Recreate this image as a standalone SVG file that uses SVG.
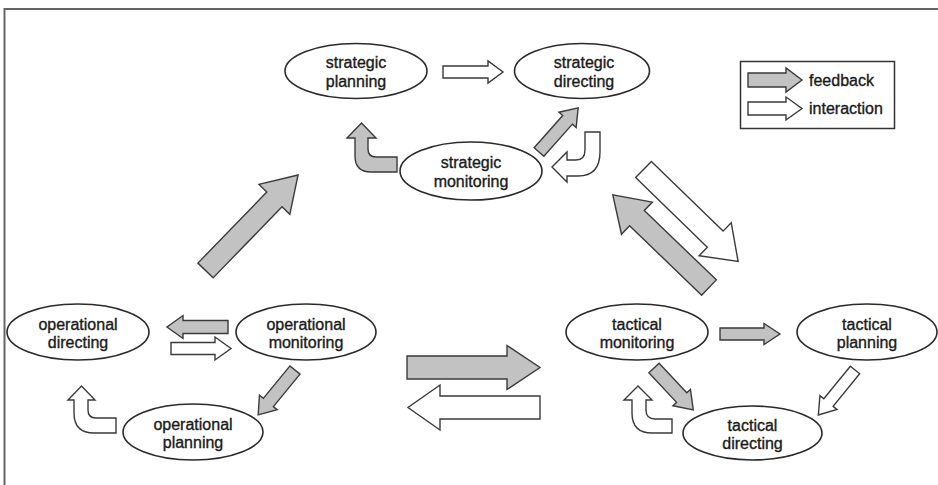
<svg xmlns="http://www.w3.org/2000/svg" width="938" height="485" viewBox="0 0 938 485">
<style>
.node ellipse{fill:#fff;stroke:#2a2a2a;stroke-width:1.6}
.node text,.legend text{font-family:"Liberation Sans",Arial,sans-serif;font-size:16px;fill:#1a1a1a;stroke:#1a1a1a;stroke-width:0.35;text-anchor:middle}
.legend text{text-anchor:start}
.fb{fill:#c2c2c2;stroke:#3a3a3a;stroke-width:1.4;stroke-linejoin:miter}
.ia{fill:#fff;stroke:#3a3a3a;stroke-width:1.4;stroke-linejoin:miter}
.frame{stroke:#666;stroke-width:2;fill:none}
</style>
<rect x="0" y="0" width="938" height="485" fill="#fff"/>
<path class="frame" d="M4.5 485 L4.5 9 L938 9"/>

<g id="legend" class="legend">
<rect x="740.5" y="61.5" width="154" height="67" fill="#fff" stroke="#333" stroke-width="1.5"/>
<polygon class="fb" transform="translate(748,80)" points="0,-7 38,-7 38,-12 54,0 38,12 38,7 0,7"/>
<polygon class="ia" transform="translate(748,108.5)" points="0,-6.5 38,-6.5 38,-11.5 54,0 38,11.5 38,6.5 0,6.5"/>
<text x="809" y="86">feedback</text>
<text x="809" y="114">interaction</text>
</g>

<g id="connectors">
<polygon class="ia" transform="translate(443,72)" points="0,-6 45,-6 45,-11 60,0 45,11 45,6 0,6"/>
<polygon class="fb" transform="translate(539,152) rotate(-48.4)" points="0,-6.5 43,-6.5 43,-11.5 59,0 43,11.5 43,6.5 0,6.5"/>
<path class="fb" d="M397 157 L376 157 Q368 157 368 149 L368 138 L376 138 L361.5 123 L347 138 L355 138 L355 156 Q355 172 371 172 L397 172 Z"/>
<path class="ia" d="M585 132 L600 132 L600 152 Q600 176 578 176 L567 176 L567 182 L552 167 L567 152 L567 160 L576 160 Q585 160 585 150 Z"/>
<polygon class="fb" transform="translate(205.5,270.5) rotate(-45.9)" points="0,-10.6 99,-10.6 99,-21.5 133,0 99,21.5 99,10.6 0,10.6"/>
<polygon class="ia" transform="translate(643.5,169.5) rotate(44.2)" points="0,-11.3 100,-11.3 100,-23 132,0 100,23 100,11.3 0,11.3"/>
<polygon class="fb" transform="translate(709,287.5) rotate(-136.1)" points="0,-10.6 100,-10.6 100,-22.3 133.5,0 100,22.3 100,10.6 0,10.6"/>
<polygon class="fb" transform="translate(228,327) rotate(180)" points="0,-6.5 45,-6.5 45,-11.5 61,0 45,11.5 45,6.5 0,6.5"/>
<polygon class="ia" transform="translate(171,348.5)" points="0,-6 44,-6 44,-11.5 60,0 44,11.5 44,6 0,6"/>
<polygon class="fb" transform="translate(295,370) rotate(129.4)" points="0,-6.5 42,-6.5 42,-11.5 58,0 42,11.5 42,6.5 0,6.5"/>
<path class="ia" d="M116 418 L96 418 Q88 418 88 410 L88 400 L95 400 L81.5 386 L68 400 L74 400 L74 413 Q74 433 94 433 L116 433 Z"/>
<polygon class="fb" transform="translate(407,367.5)" points="0,-11.5 100,-11.5 100,-22 133,0 100,22 100,11.5 0,11.5"/>
<polygon class="ia" transform="translate(540,407.5) rotate(180)" points="0,-11.5 100,-11.5 100,-22.5 132,0 100,22.5 100,11.5 0,11.5"/>
<polygon class="fb" transform="translate(720,334)" points="0,-6 44,-6 44,-10.5 60,0 44,10.5 44,6 0,6"/>
<polygon class="fb" transform="translate(654,368) rotate(46.9)" points="0,-7 40.5,-7 40.5,-12 57.5,0 40.5,12 40.5,7 0,7"/>
<polygon class="ia" transform="translate(855,370) rotate(129.2)" points="0,-6 42,-6 42,-11 58,0 42,11 42,6 0,6"/>
<path class="ia" d="M672 419 L655 419 Q646 419 646 410 L646 400 L652 400 L638 386 L624 400 L632 400 L632 413 Q632 433 652 433 L672 433 Z"/>
</g>

<g id="strategic-planning" class="node">
<ellipse cx="356" cy="71" rx="71" ry="27.5"/>
<text x="356" y="68">strategic</text>
<text x="356" y="87">planning</text>
</g>
<g id="strategic-directing" class="node">
<ellipse cx="582" cy="71" rx="67.5" ry="27.5"/>
<text x="584" y="68">strategic</text>
<text x="584" y="87">directing</text>
</g>
<g id="strategic-monitoring" class="node">
<ellipse cx="471" cy="171" rx="71" ry="29"/>
<text x="471" y="168">strategic</text>
<text x="471" y="187">monitoring</text>
</g>
<g id="operational-directing" class="node">
<ellipse cx="78" cy="332" rx="71" ry="28"/>
<text x="78" y="330">operational</text>
<text x="78" y="348">directing</text>
</g>
<g id="operational-monitoring" class="node">
<ellipse cx="306" cy="332" rx="70" ry="28"/>
<text x="306" y="330">operational</text>
<text x="306" y="348">monitoring</text>
</g>
<g id="operational-planning" class="node">
<ellipse cx="193" cy="432" rx="70" ry="28"/>
<text x="193" y="430">operational</text>
<text x="193" y="448">planning</text>
</g>
<g id="tactical-monitoring" class="node">
<ellipse cx="637" cy="332" rx="71" ry="28"/>
<text x="637" y="330">tactical</text>
<text x="637" y="348">monitoring</text>
</g>
<g id="tactical-planning" class="node">
<ellipse cx="867" cy="332" rx="70" ry="28"/>
<text x="867" y="330">tactical</text>
<text x="867" y="348">planning</text>
</g>
<g id="tactical-directing" class="node">
<ellipse cx="752.5" cy="433" rx="69.5" ry="27"/>
<text x="752.5" y="431">tactical</text>
<text x="752.5" y="449">directing</text>
</g>
</svg>
